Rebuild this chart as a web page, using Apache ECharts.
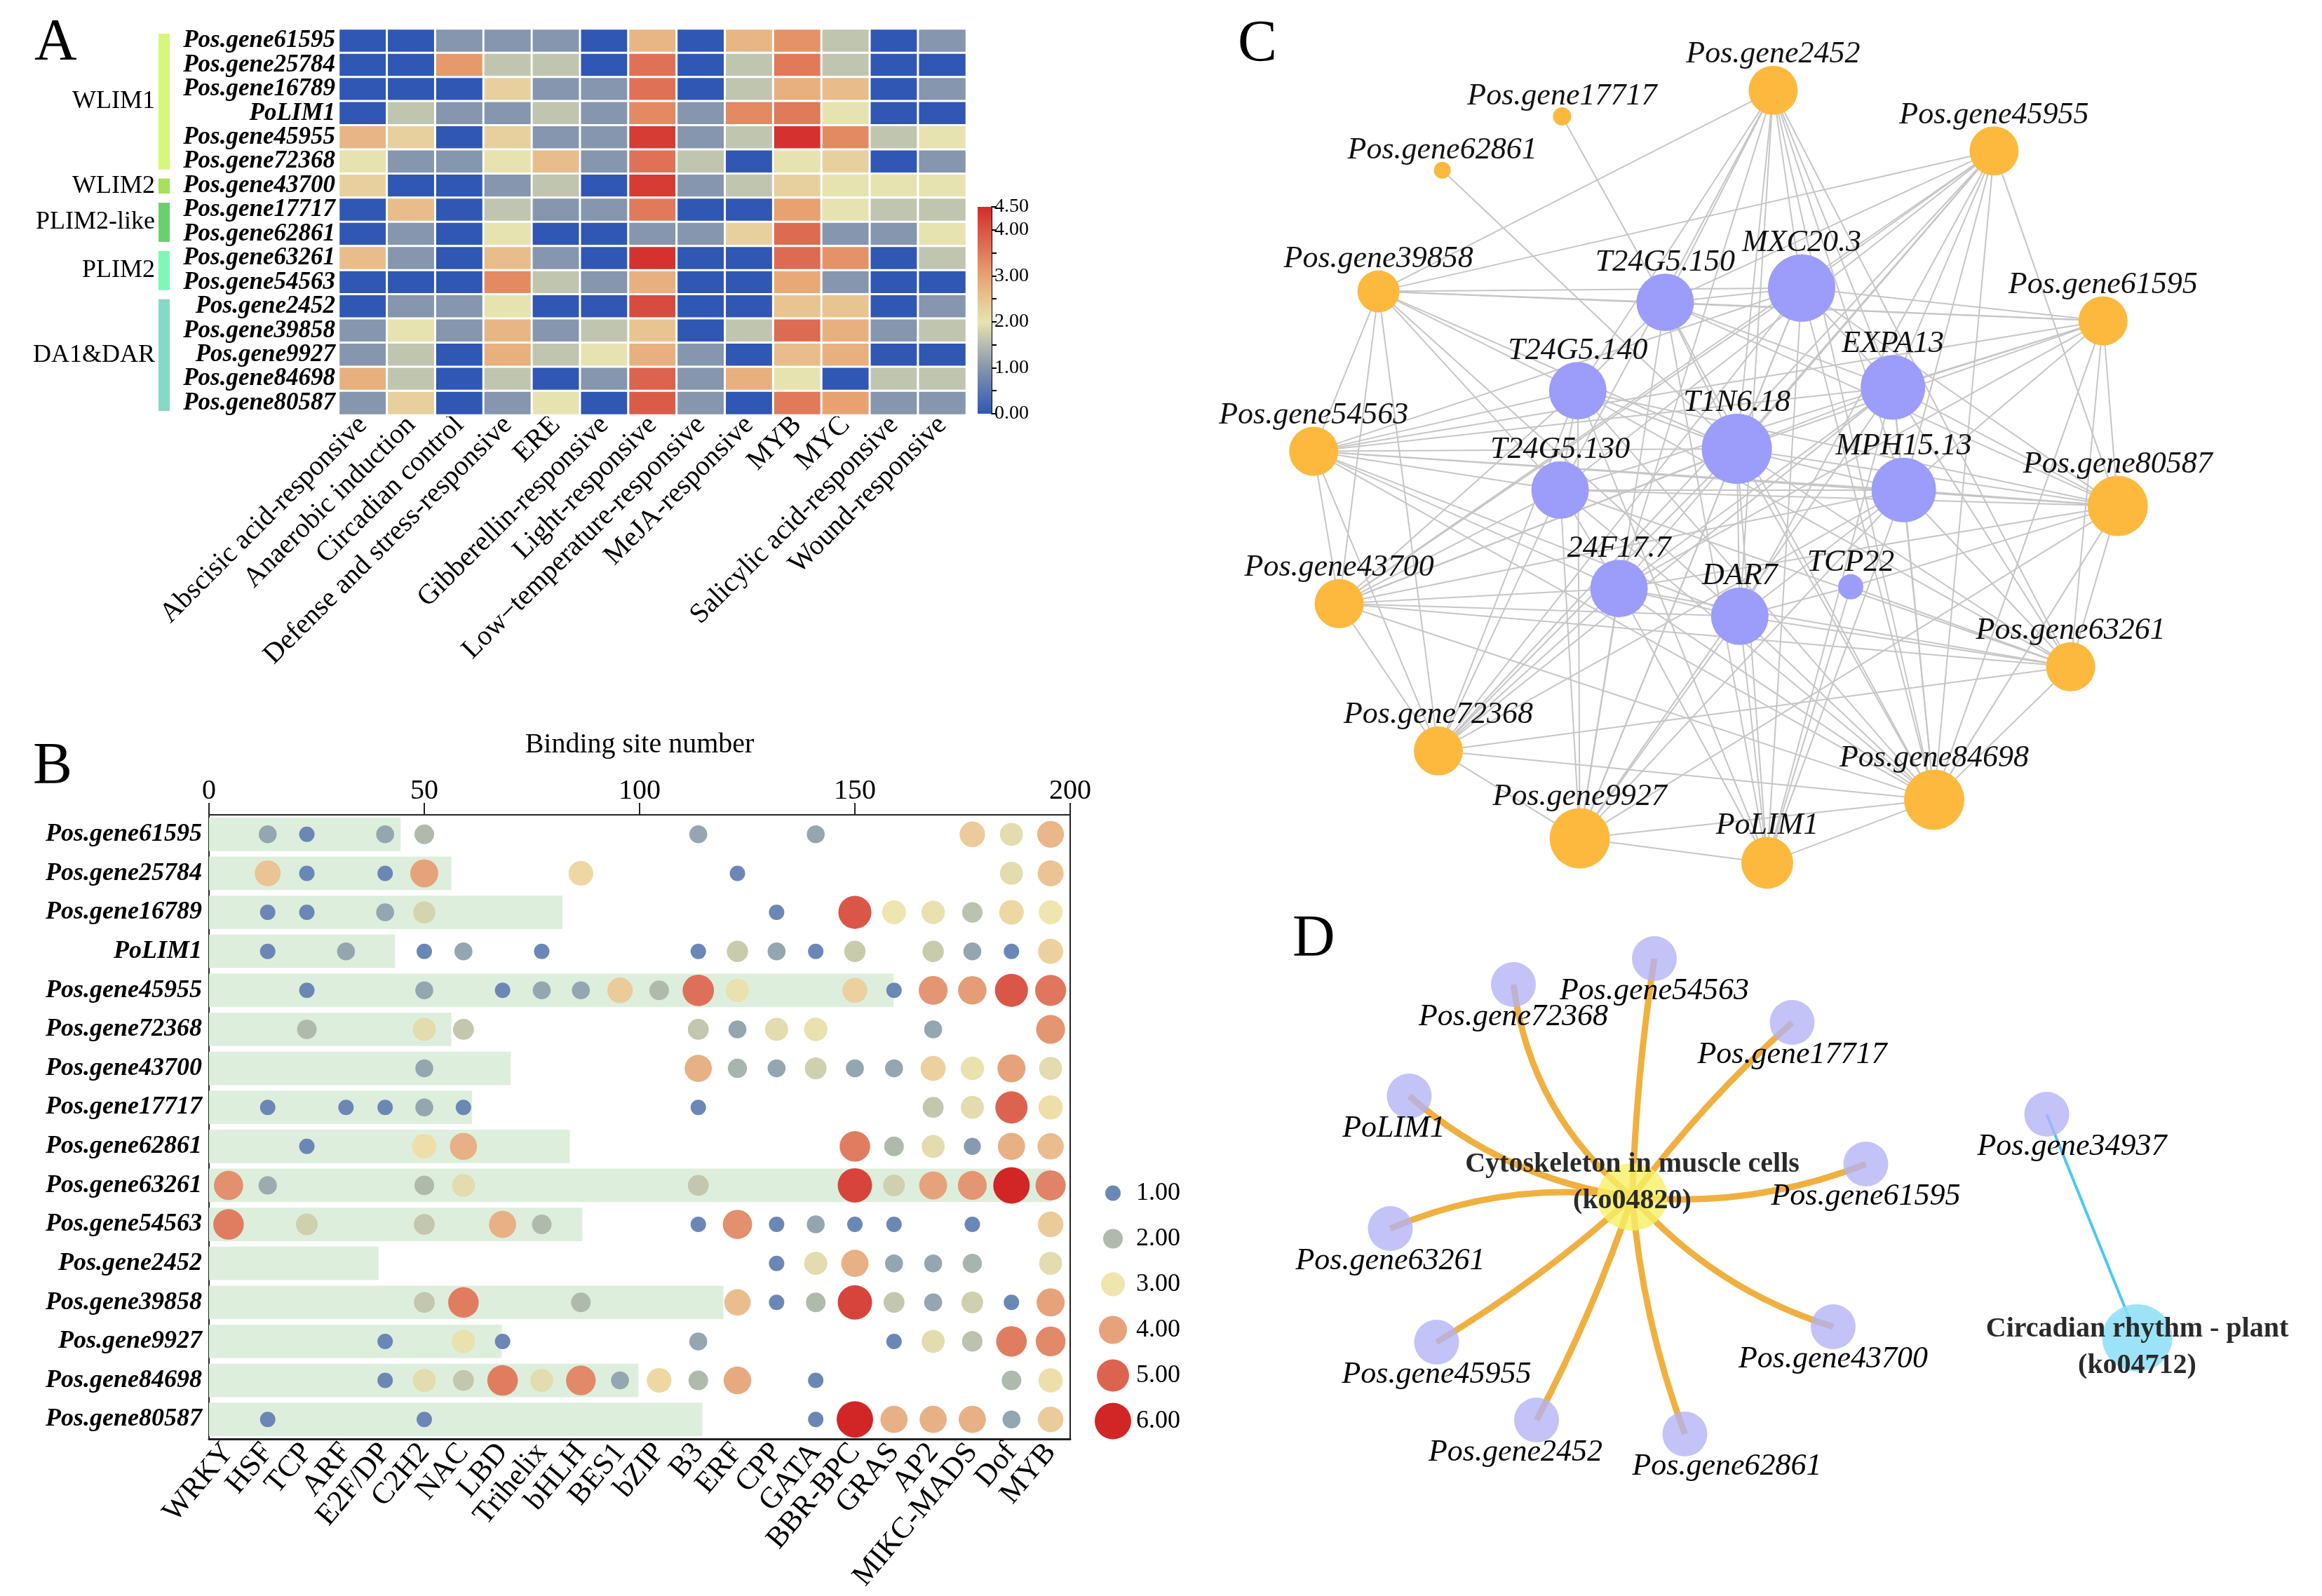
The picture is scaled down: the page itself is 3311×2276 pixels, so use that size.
<!DOCTYPE html>
<html><head><meta charset="utf-8">
<script src="https://cdn.jsdelivr.net/npm/echarts@6/dist/echarts.min.js"></script>
<style>html,body{margin:0;padding:0;background:#fff}#c{width:3311px;height:2276px}</style>
</head><body><div id="c"></div>
<script>
// ---------- shared ----------
const genes = ['Pos.gene61595','Pos.gene25784','Pos.gene16789','PoLIM1','Pos.gene45955','Pos.gene72368','Pos.gene43700','Pos.gene17717','Pos.gene62861','Pos.gene63261','Pos.gene54563','Pos.gene2452','Pos.gene39858','Pos.gene9927','Pos.gene84698','Pos.gene80587'];

// ---------- A: cis-element heatmap ----------
const heatCats = ['Abscisic acid-responsive','Anaerobic induction','Circadian control','Defense and stress-responsive','ERE','Gibberellin-responsive','Light-responsive','Low\u2212temperature-responsive','MeJA-responsive','MYB','MYC','Salicylic acid-responsive','Wound-responsive'];
const heatValues = [
 [0,0,1.0,1.0,1.0,0,2.7,0,2.7,3.2,1.6,0,1.0],
 [0,0,3.1,1.6,1.6,0,3.6,0,1.6,3.5,1.6,0,0],
 [0,0,0,2.3,1.0,1.0,3.6,0,1.6,2.8,2.6,0,1.0],
 [0,1.6,1.0,1.0,1.6,1.0,3.3,1.0,3.3,3.5,2.0,0,0],
 [2.7,2.3,0,2.3,1.0,1.0,4.3,1.0,1.6,4.4,3.3,1.6,2.0],
 [2.0,1.0,1.0,2.0,2.6,1.0,3.6,1.6,0,2.0,2.3,0,1.0],
 [2.3,0,0,1.0,1.6,0,4.3,1.0,1.6,2.3,2.0,2.0,2.0],
 [0,2.6,0,1.6,1.0,1.0,3.5,0,0,3.0,2.0,1.6,1.6],
 [0,1.0,0,2.0,0,0,1.0,1.0,2.3,3.7,1.0,1.0,2.0],
 [2.6,1.0,0,2.6,1.0,0,4.4,0,0,3.7,3.2,0,1.6],
 [0,0,0,3.3,1.6,1.0,2.8,0,0,2.9,1.0,0,0],
 [0,1.0,1.0,2.0,0,0,4.1,0,0,2.5,2.5,0,1.0],
 [1.0,2.0,1.0,2.7,1.0,1.6,2.5,0,1.6,3.7,2.8,1.0,1.6],
 [1.0,1.6,0,2.8,1.6,2.0,2.8,1.0,0,2.6,2.8,0,0],
 [2.8,1.6,0,1.6,0,1.0,3.8,1.0,2.8,2.0,0,1.6,1.6],
 [1.0,2.3,0,1.0,2.0,0,3.9,1.0,0,3.5,3.0,1.0,1.0]
];
const heatMin = 0, heatMax = 4.5;
const heatColors = ['#2f57b3','#5a76b2','#8596ae','#b6bdb0','#e7e3b1','#e8c491','#e8a271','#e07a5a','#d95444','#d42a2a'];
const groupNames = ['WLIM1','WLIM2','PLIM2-like','PLIM2','DA1&DAR'];
const groupStart = [0,6,7,9,11];
const groupEnd = [5,6,8,10,15];
const groupColors = ['#d6f87a','#a6e05c','#6ccf6e','#7ff7b6','#86d9c6'];

// ---------- B: TF binding sites ----------
const tfFamilies = ['WRKY','HSF','TCP','ARF','E2F/DP','C2H2','NAC','LBD','Trihelix','bHLH','BES1','bZIP','B3','ERF','CPP','GATA','BBR-BPC','GRAS','AP2','MIKC-MADS','Dof','MYB'];
const bindingSites = [44.5,56.3,82.1,43.2,159,56.3,70.1,61.1,83.8,195.6,86.7,39.4,119.5,68,99.7,114.6];
const tfScores = [
 [0,1.6,1,0,1.6,2.0,0,0,0,0,0,0,1.6,0,0,1.6,0,0,0,3.4,2.8,3.7],
 [0,3.5,1,0,1,4.0,0,0,0,3.2,0,0,0,1,0,0,0,0,0,0,2.8,3.5],
 [0,1,1,0,1.6,2.6,0,0,0,0,0,0,0,0,1,0,5.2,3.0,2.9,2.2,3.2,3.0],
 [0,1,0,1.6,0,1,1.6,0,1,0,0,0,1,2.4,1.6,1,2.4,0,2.4,1.6,1,3.3],
 [0,0,1,0,0,1.6,0,1,1.6,1.6,3.4,2.0,4.8,2.9,0,0,3.3,1,4.2,4.1,5.2,4.7],
 [0,0,2.0,0,0,2.8,2.3,0,0,0,0,0,2.3,1.6,2.8,2.9,0,0,1.6,0,0,4.2],
 [0,0,0,0,0,1.6,0,0,0,0,0,0,3.8,1.9,1.6,2.5,1.6,1.6,3.3,2.9,4.0,2.8],
 [0,1,0,1,1,1.6,1,0,0,0,0,0,1,0,0,0,0,0,2.3,2.8,5.0,3.1],
 [0,0,1,0,0,3.1,3.8,0,0,0,0,0,0,0,0,0,4.6,2.0,2.8,1.4,3.8,3.6],
 [4.3,1.7,0,0,0,2.0,2.8,0,0,0,0,0,2.3,0,0,0,5.5,2.5,4.0,4.2,6.0,4.5],
 [4.6,0,2.5,0,0,2.3,0,3.8,2.0,0,0,0,1,4.3,1,1.6,1,1,0,1,0,3.4],
 [0,0,0,0,0,0,0,0,0,0,0,0,0,0,1,2.8,3.8,1.6,1.6,1.9,0,2.8],
 [0,0,0,0,0,2.3,4.6,0,0,2.0,0,0,0,3.6,1,2.0,5.5,2.3,1.6,2.5,1,4.0],
 [0,0,0,0,1,0,2.9,1,0,0,0,0,1.6,0,0,0,0,1,2.8,2.2,4.6,4.4],
 [0,0,0,0,1,2.8,2.3,4.6,2.8,4.4,1.6,3.2,2.0,3.9,0,1,0,0,0,0,2.0,3.1],
 [0,1,0,0,0,1,0,0,0,0,0,0,0,0,0,1,6.0,3.8,3.8,3.8,1.6,3.4]
];
const scoreLegend = [1,2,3,4,5,6];
const scoreColors = ['#6b87b5','#afbaad','#efe5ae','#e6a37b','#dc6350','#d22525'];

// ---------- C: interaction network (layout coordinates) ----------
const netNames = ['Pos.gene2452','Pos.gene17717','Pos.gene62861','Pos.gene45955','Pos.gene39858','Pos.gene61595','Pos.gene54563','Pos.gene80587','Pos.gene43700','Pos.gene63261','Pos.gene72368','Pos.gene84698','Pos.gene9927','PoLIM1','MXC20.3','T24G5.150','T24G5.140','EXPA13','T1N6.18','T24G5.130','MPH15.13','24F17.7','DAR7','TCP22'];
const netX = [556,341,219,781,154,892,88,907,114,859,215,720,359,550,585,446,357,678,519,339,689,399,522,635];
const netY = [24,55,119,96,263,298,453,518,634,709,809,867,913,942,259,276,381,377,450,499,499,616,649,614];
const netSize = [70,26,24,70,60,70,70,86,70,70,70,86,86,74,96,82,82,92,100,82,92,82,82,36];
const netIsPoplar = [1,1,1,1,1,1,1,1,1,1,1,1,1,1,0,0,0,0,0,0,0,0,0,0];
const netLinks = [
 ['Pos.gene2452',['MXC20.3','T24G5.150','T24G5.140','T1N6.18','EXPA13','MPH15.13','DAR7','24F17.7','T24G5.130','Pos.gene39858','Pos.gene63261','Pos.gene84698']],
 ['Pos.gene17717',['T24G5.150']],
 ['Pos.gene62861',['T1N6.18']],
 ['Pos.gene45955',['MXC20.3','T24G5.150','T1N6.18','EXPA13','MPH15.13','T24G5.130','24F17.7','DAR7','Pos.gene39858','Pos.gene80587','Pos.gene43700','Pos.gene72368','Pos.gene84698']],
 ['Pos.gene39858',['T24G5.150','MXC20.3','T24G5.140','T1N6.18','T24G5.130','Pos.gene54563','Pos.gene43700','Pos.gene72368','Pos.gene61595','DAR7']],
 ['Pos.gene61595',['MXC20.3','T24G5.150','EXPA13','T1N6.18','MPH15.13','T24G5.130','24F17.7','Pos.gene80587','Pos.gene84698','Pos.gene54563','Pos.gene63261']],
 ['Pos.gene54563',['T24G5.140','T24G5.130','T1N6.18','MPH15.13','EXPA13','DAR7','24F17.7','Pos.gene43700','Pos.gene72368','Pos.gene80587','Pos.gene84698','MXC20.3']],
 ['Pos.gene80587',['MXC20.3','EXPA13','MPH15.13','T1N6.18','T24G5.130','T24G5.140','TCP22','24F17.7','Pos.gene63261','Pos.gene84698','Pos.gene9927','T24G5.150']],
 ['Pos.gene43700',['T24G5.140','T24G5.130','T1N6.18','24F17.7','DAR7','MPH15.13','EXPA13','MXC20.3','Pos.gene72368','Pos.gene63261','Pos.gene84698']],
 ['Pos.gene63261',['MPH15.13','EXPA13','T1N6.18','DAR7','TCP22','24F17.7','T24G5.130','T24G5.140','Pos.gene84698','Pos.gene72368']],
 ['Pos.gene72368',['T24G5.130','T24G5.140','24F17.7','T1N6.18','MXC20.3','EXPA13','MPH15.13','Pos.gene9927','Pos.gene84698']],
 ['Pos.gene84698',['T1N6.18','DAR7','24F17.7','MPH15.13','EXPA13','T24G5.150','T24G5.140','T24G5.130','MXC20.3','Pos.gene9927','PoLIM1']],
 ['Pos.gene9927',['T24G5.130','T24G5.140','24F17.7','DAR7','T1N6.18','MXC20.3','EXPA13','MPH15.13','T24G5.150','PoLIM1']],
 ['PoLIM1',['DAR7','24F17.7','T1N6.18','T24G5.150','T24G5.140','MXC20.3','MPH15.13','EXPA13','TCP22']],
 ['T24G5.150',['MXC20.3','T24G5.140','EXPA13','T1N6.18']],
 ['MXC20.3',['EXPA13','T1N6.18']],
 ['T24G5.140',['T1N6.18','T24G5.130']],
 ['T1N6.18',['MPH15.13','DAR7']],
 ['EXPA13',['MPH15.13','24F17.7']],
 ['T24G5.130',['MPH15.13','24F17.7']],
 ['24F17.7',['DAR7']],
 ['DAR7',['MPH15.13','TCP22']]
];

// ---------- D: KEGG enrichment network ----------
const keggNames = ['Cytoskeleton in muscle cells\n(ko04820)','Pos.gene54563','Pos.gene72368','Pos.gene17717','PoLIM1','Pos.gene61595','Pos.gene63261','Pos.gene45955','Pos.gene43700','Pos.gene2452','Pos.gene62861','Pos.gene34937','Circadian rhythm - plant\n(ko04712)'];
const keggX = [385,406,272,537,173,607,155,199,576,294,435,779,865];
const keggY = [447,107,144,198,303,400,492,654,632,765,785,329,648];
const keggKind = ['path','gene','gene','gene','gene','gene','gene','gene','gene','gene','gene','gene','path2'];
const keggLinks = [
 [0,1,0.03],[0,2,0.2],[0,3,0.05],[0,4,0.15],[0,5,-0.12],[0,6,-0.14],[0,7,0.05],[0,8,-0.14],[0,9,0.04],[0,10,-0.07],[11,12,0]
];
const keggLabelDx = [0,0,0,0,-22,0,0,0,0,-30,60,36,0];

// ---------- build ----------
const FONT = "'Liberation Serif','Times New Roman',serif";
const heatData = [];
heatValues.forEach((row, r) => row.forEach((v, c) => heatData.push([c, r, v])));
const scatterData = [];
tfScores.forEach((row, r) => row.forEach((v, c) => { if (v > 0) scatterData.push([c, r, v]); }));
const sizeOf = v => 16 + 6 * v;

const netNodes = netNames.map((n, i) => ({
  name: n, value: [netX[i], netY[i]], symbolSize: netSize[i],
  itemStyle: { color: netIsPoplar[i] ? '#fdb93e' : '#9c9cfa' }
}));
const netEdgeSet = new Set(); const netEdges = [];
netLinks.forEach(([s, ts]) => ts.forEach(t => {
  const k = [s, t].sort().join('|');
  if (!netEdgeSet.has(k)) { netEdgeSet.add(k); netEdges.push({ source: s, target: t }); }
}));

const keggNodes = keggNames.map((n, i) => {
  const kind = keggKind[i];
  const base = { name: n, value: [keggX[i], keggY[i]] };
  if (kind === 'gene') {
    return Object.assign(base, { symbolSize: 64, itemStyle: { color: 'rgba(178,178,246,0.78)' },
      label: { show: true, position: 'bottom', distance: -8, offset: [keggLabelDx[i], 0], fontStyle: 'italic', fontSize: 44, color: '#000', fontFamily: FONT } });
  }
  return Object.assign(base, { symbolSize: [100, 96],
    itemStyle: { color: kind === 'path' ? 'rgba(246,240,100,0.8)' : 'rgba(140,222,246,0.85)' },
    label: { show: true, position: 'inside', offset: [0, kind === 'path' ? -20 : 14], fontWeight: 'bold', fontSize: 40, lineHeight: 52, color: '#2a2a2a', fontFamily: FONT } });
});
const keggEdges = keggLinks.map(([s, t, c]) => ({
  source: keggNames[s], target: keggNames[t],
  lineStyle: keggKind[t] === 'path2' ? { color: '#4cc8f0', width: 4, curveness: c, opacity: 1 } : { color: '#f0b040', width: 9, curveness: c, opacity: 1 }
}));

const chart = echarts.init(document.getElementById('c'), null, { renderer: 'canvas' });
const hiddenVal = (idx, min, max, inv) => ({ type: 'value', gridIndex: idx, min, max, show: false, inverse: !!inv });

chart.setOption({
  backgroundColor: '#fff',
  animation: false,
  textStyle: { fontFamily: FONT },
  title: [
    { text: 'A', left: 44, top: 16, textStyle: { fontSize: 84, fontWeight: 'normal', fontFamily: FONT, color: '#000' } },
    { text: 'B', left: 42, top: 1048, textStyle: { fontSize: 84, fontWeight: 'normal', fontFamily: FONT, color: '#000' } },
    { text: 'C', left: 1760, top: 18, textStyle: { fontSize: 84, fontWeight: 'normal', fontFamily: FONT, color: '#000' } },
    { text: 'D', left: 1838, top: 1294, textStyle: { fontSize: 84, fontWeight: 'normal', fontFamily: FONT, color: '#000' } }
  ],
  visualMap: [
    { type: 'continuous', show: false, seriesIndex: [0], dimension: 2, min: heatMin, max: heatMax, inRange: { color: heatColors } },
    { type: 'continuous', show: false, seriesIndex: [4, 5], dimension: 2, min: 1, max: 6, inRange: { color: scoreColors } }
  ],
  grid: [
    { left: 483, top: 41, width: 895, height: 551 },
    { left: 1394, top: 295, width: 20, height: 295 },
    { left: 298, top: 1162, width: 1228, height: 890, show: true, borderColor: '#222', borderWidth: 2 },
    { left: 1560, top: 1669, width: 54, height: 390 },
    { left: 1750, top: 100, width: 1400, height: 1200 },
    { left: 1750, top: 1260, width: 1500, height: 1000 }
  ],
  xAxis: [
    { type: 'category', gridIndex: 0, data: heatCats, position: 'bottom', axisLine: { show: false }, axisTick: { show: false },
      axisLabel: { rotate: 45, interval: 0, fontSize: 40, color: '#000', margin: 8, fontFamily: FONT }, splitLine: { show: false } },
    { type: 'category', gridIndex: 1, data: ['scale'], show: false },
    { type: 'value', gridIndex: 2, position: 'top', min: 0, max: 200, interval: 50,
      name: 'Binding site number', nameLocation: 'middle', nameGap: 80, nameTextStyle: { fontSize: 40, color: '#000', fontFamily: FONT },
      axisLine: { show: true, lineStyle: { color: '#222', width: 2 } }, axisTick: { show: true, length: 17, lineStyle: { color: '#222', width: 2 } },
      axisLabel: { fontSize: 40, color: '#000', margin: 14, fontFamily: FONT }, splitLine: { show: false } },
    { type: 'category', gridIndex: 2, position: 'bottom', data: tfFamilies, boundaryGap: true,
      axisLine: { show: true, lineStyle: { color: '#222', width: 3 } }, axisTick: { show: false },
      axisLabel: { rotate: 50, interval: 0, fontSize: 43, color: '#000', margin: 12, fontFamily: FONT }, splitLine: { show: false } },
    hiddenVal(3, -1, 1),
    hiddenVal(4, 0, 1000),
    hiddenVal(5, 0, 1000)
  ],
  yAxis: [
    { type: 'category', gridIndex: 0, data: genes, inverse: true, axisLine: { show: false }, axisTick: { show: false },
      axisLabel: { interval: 0, fontSize: 35, fontStyle: 'italic', fontWeight: 'bold', color: '#000', margin: 5, fontFamily: FONT } },
    { type: 'value', gridIndex: 1, position: 'right', min: heatMin, max: heatMax, interval: 0.5,
      axisLine: { show: true, lineStyle: { color: '#000', width: 2 } }, axisTick: { show: true, length: 7, lineStyle: { color: '#000', width: 2 } },
      axisLabel: { fontSize: 28, color: '#000', margin: 4, fontFamily: FONT, showMaxLabel: true,
        formatter: v => (Math.abs(v - Math.round(v)) < 1e-6 || Math.abs(v - heatMax) < 1e-6) ? v.toFixed(2) : '' },
      splitLine: { show: false } },
    { type: 'category', gridIndex: 2, data: genes, inverse: true,
      axisLine: { show: true, lineStyle: { color: '#222', width: 2 } }, axisTick: { show: false },
      axisLabel: { interval: 0, fontSize: 36, fontStyle: 'italic', fontWeight: 'bold', color: '#000', margin: 10, fontFamily: FONT } },
    { type: 'category', gridIndex: 3, data: scoreLegend.map(v => v.toFixed(2)), inverse: true, position: 'right',
      axisLine: { show: false }, axisTick: { show: false }, axisLabel: { interval: 0, fontSize: 36, color: '#000', margin: 6, fontFamily: FONT } },
    hiddenVal(4, 0, 1000, true),
    hiddenVal(5, 0, 1000, true)
  ],
  series: [
    { type: 'heatmap', xAxisIndex: 0, yAxisIndex: 0, data: heatData,
      itemStyle: { borderColor: '#fff', borderWidth: 3 }, emphasis: { disabled: true } },
    { type: 'custom', xAxisIndex: 0, yAxisIndex: 0, clip: false,
      data: groupNames.map((n, i) => [0, groupStart[i], groupEnd[i]]),
      renderItem: (params, api) => {
        const cs = params.coordSys;
        const h = api.size([0, 1])[1];
        const y0 = api.coord([0, api.value(1)])[1] - h / 2 + 7;
        const y1 = api.coord([0, api.value(2)])[1] + h / 2 - 6;
        const i = params.dataIndex;
        return { type: 'group', children: [
          { type: 'rect', shape: { x: cs.x - 257, y: y0, width: 16, height: y1 - y0 }, style: { fill: groupColors[i] } },
          { type: 'text', style: { text: groupNames[i], x: cs.x - 262, y: (y0 + y1) / 2, align: 'right', verticalAlign: 'middle', fontSize: 36, fontFamily: FONT, fill: '#000' } }
        ] };
      } },
    { type: 'bar', xAxisIndex: 1, yAxisIndex: 1, data: [heatMax], barWidth: '100%', silent: true,
      itemStyle: { color: new echarts.graphic.LinearGradient(0, 1, 0, 0, heatColors.map((c, i) => ({ offset: i / (heatColors.length - 1), color: c }))) } },
    { type: 'bar', xAxisIndex: 2, yAxisIndex: 2, data: bindingSites, barWidth: '86%', silent: true, itemStyle: { color: '#ddefdc' } },
    { type: 'scatter', xAxisIndex: 3, yAxisIndex: 2, data: scatterData, symbolSize: v => sizeOf(v[2]), itemStyle: { opacity: 1 } },
    { type: 'scatter', xAxisIndex: 4, yAxisIndex: 3, data: scoreLegend.map((v, i) => [0, i, v]), symbolSize: v => sizeOf(v[2]), itemStyle: { opacity: 1 } },
    { type: 'graph', layout: 'none', coordinateSystem: 'cartesian2d', xAxisIndex: 5, yAxisIndex: 4,
      data: netNodes, links: netEdges, z: 3,
      label: { show: true, position: 'top', distance: -6, fontStyle: 'italic', fontSize: 44, color: '#111', fontFamily: FONT },
      lineStyle: { color: '#c6c6c6', width: 2, opacity: 1 }, emphasis: { disabled: true } },
    { type: 'graph', layout: 'none', coordinateSystem: 'cartesian2d', xAxisIndex: 6, yAxisIndex: 5,
      data: keggNodes, links: keggEdges, z: 3, emphasis: { disabled: true } }
  ]
});
</script></body></html>
